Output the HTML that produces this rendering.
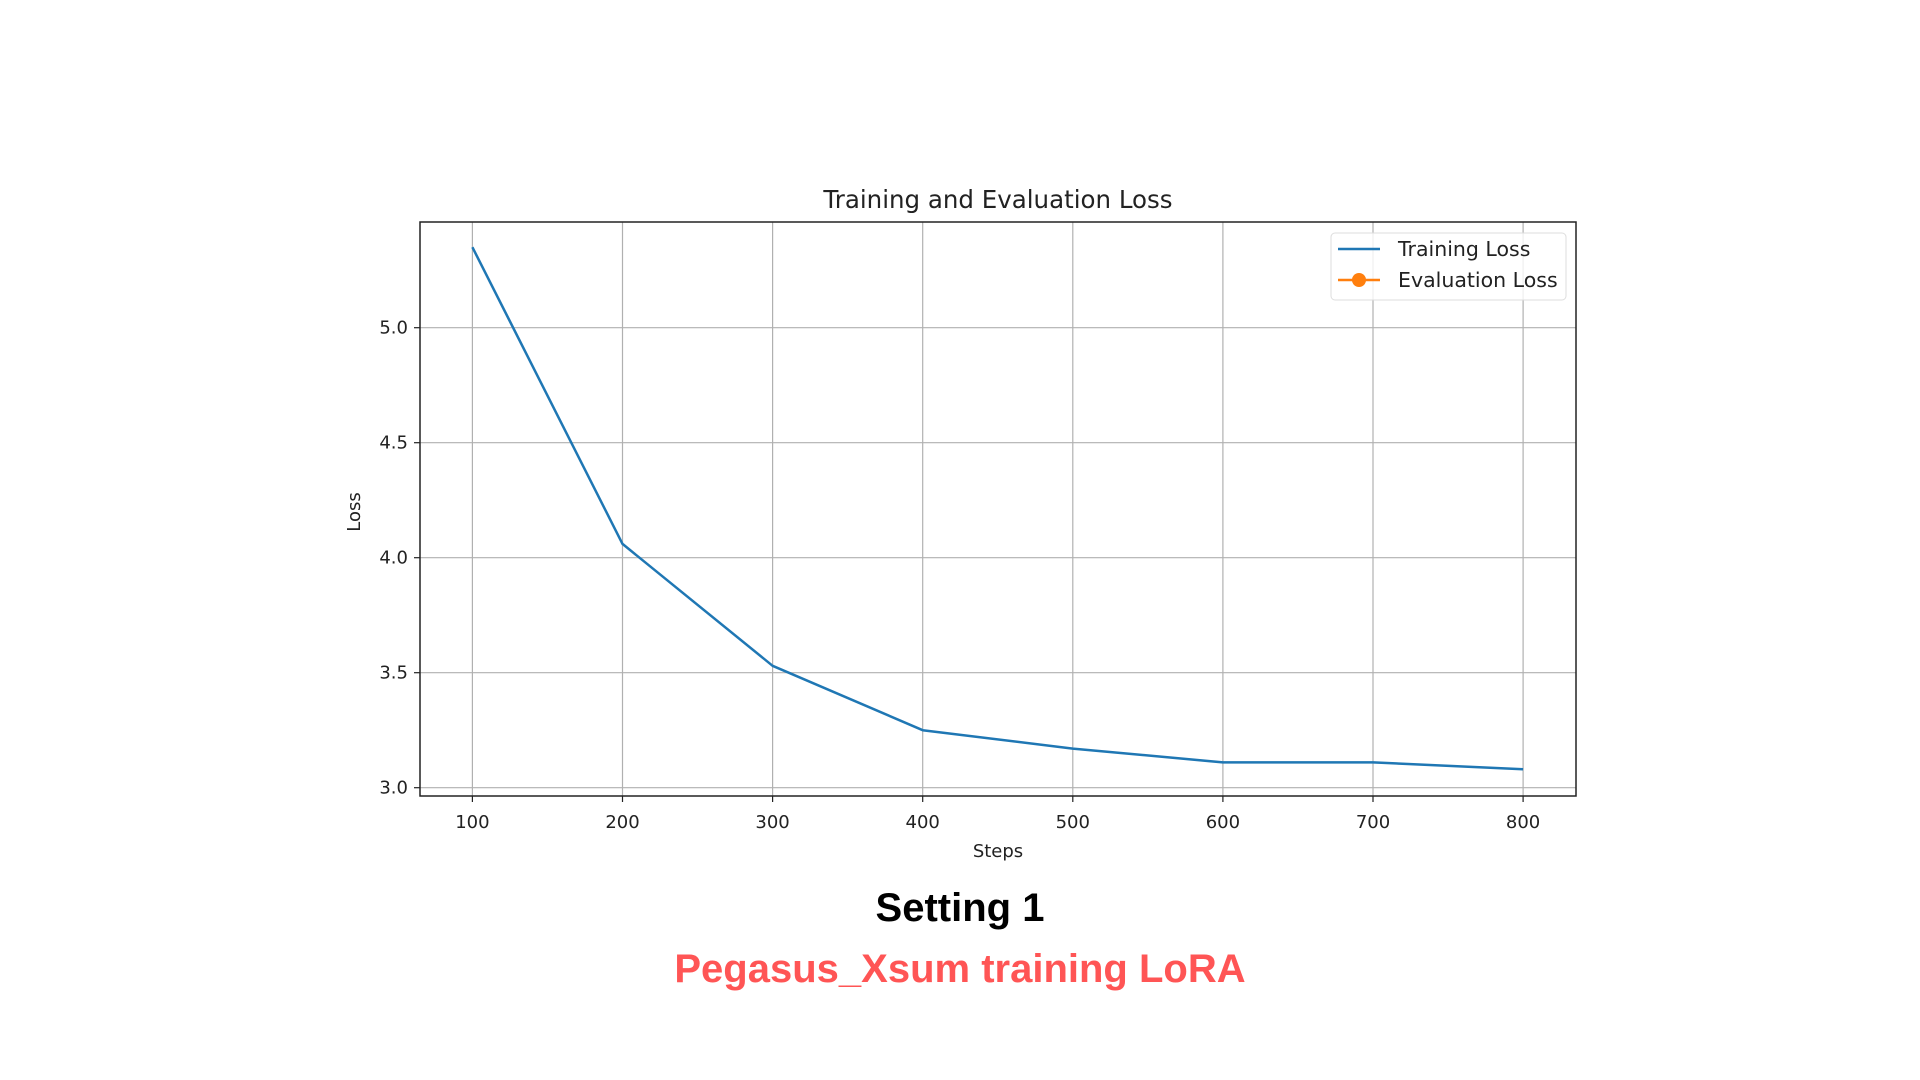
<!DOCTYPE html>
<html><head><meta charset="utf-8"><style>
html,body{margin:0;padding:0;background:#fff;width:1920px;height:1080px;overflow:hidden}
svg text{font-family:"DejaVu Sans","Liberation Sans",sans-serif;fill:#222}
.cap{position:absolute;left:0;width:1920px;text-align:center;font-family:"Liberation Sans",sans-serif;font-weight:bold;font-size:40px}
</style></head><body>
<svg id="chart" width="1920" height="1080" style="position:absolute;left:0;top:0">
<g id="grid"></g>
<g id="ticks"></g>
<g id="series"></g>
<rect x="420" y="222" width="1156" height="574" fill="none" stroke="#222" stroke-width="1.5"/>
<text x="998" y="208" text-anchor="middle" font-size="24.5">Training and Evaluation Loss</text>
<text x="998" y="857" text-anchor="middle" font-size="18">Steps</text>
<text x="0" y="0" transform="translate(360,512) rotate(-90)" text-anchor="middle" font-size="18">Loss</text>
<g>
<rect x="1331" y="233" width="235" height="67" rx="4" fill="#fff" fill-opacity="0.8" stroke="#ddd"/>
<line x1="1338" y1="249" x2="1380" y2="249" stroke="#1f77b4" stroke-width="2.5"/>
<text x="1398" y="256" font-size="20.5">Training Loss</text>
<line x1="1338" y1="280" x2="1380" y2="280" stroke="#ff7f0e" stroke-width="2.5"/>
<circle cx="1359" cy="280" r="7" fill="#ff7f0e"/>
<text x="1398" y="287" font-size="20.5">Evaluation Loss</text>
</g>
</svg>
<div class="cap" style="top:886px;color:#000">Setting 1</div>
<div class="cap" style="top:947px;color:#ff5555">Pegasus_Xsum training LoRA</div>
<script>
const steps=[100,200,300,400,500,600,700,800];
const trainLoss=[5.35,4.06,3.53,3.25,3.17,3.11,3.11,3.08];
const evalLoss=[];
const xTicks=[100,200,300,400,500,600,700,800];
const yTicks=[3.0,3.5,4.0,4.5,5.0];
const NS='http://www.w3.org/2000/svg';
const L=420,R=1576,T=222,B=796;
function xs(v){return 472.4+(v-100)*1.501;}
function ys(v){return 787.7-(v-3.0)*230;}
function mk(t,a){const e=document.createElementNS(NS,t);for(const k in a)e.setAttribute(k,a[k]);return e;}
const grid=document.getElementById('grid'),ticks=document.getElementById('ticks'),ser=document.getElementById('series');
xTicks.forEach(v=>{
 const g=mk('line',{x1:xs(v),x2:xs(v),y1:T,y2:B,stroke:'#b0b0b0','stroke-width':1.2});
 
 
 grid.appendChild(g);
 const tk=mk('line',{x1:xs(v),x2:xs(v),y1:B,y2:B+6,stroke:'#222','stroke-width':1.2});
 
 
 ticks.appendChild(tk);
 const t=mk('text',{x:xs(v),y:B+32,'text-anchor':'middle','font-size':18});
 
 
 t.textContent=v;ticks.appendChild(t);
});
yTicks.forEach(v=>{
 const g=mk('line',{x1:L,x2:R,y1:ys(v),y2:ys(v),stroke:'#b0b0b0','stroke-width':1.2});
 
 
 grid.appendChild(g);
 const tk=mk('line',{x1:L-6,x2:L,y1:ys(v),y2:ys(v),stroke:'#222','stroke-width':1.2});
 
 
 ticks.appendChild(tk);
 const t=mk('text',{x:L-12,y:ys(v)+6,'text-anchor':'end','font-size':18});
 
 
 t.textContent=v.toFixed(1);ticks.appendChild(t);
});
const p=mk('polyline',{points:steps.map((s,i)=>xs(s)+','+ys(trainLoss[i])).join(' '),fill:'none',stroke:'#1f77b4','stroke-width':2.5,'stroke-linejoin':'round'});


ser.appendChild(p);
if(evalLoss.length){
 const e=mk('polyline',{points:evalLoss.map((v,i)=>xs(steps[i])+','+ys(v)).join(' '),fill:'none',stroke:'#ff7f0e','stroke-width':2.5});
 
 
 ser.appendChild(e);
}
</script>
</body></html>
